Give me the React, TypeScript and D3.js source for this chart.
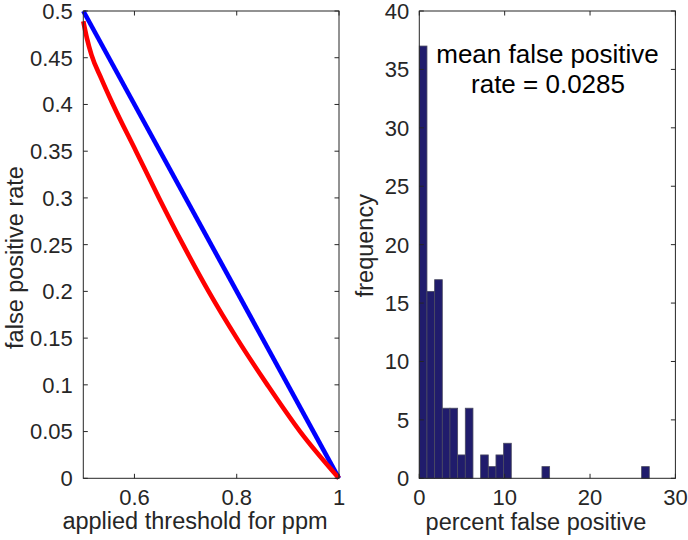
import React from "react";
import * as d3 from "d3";

const W = 688;
const H = 540;

// Left panel data
const blueX = [0.5, 1.0];
const blueY = [0.5, 0.0];
const redX = [0.5, 0.507, 0.516, 0.535, 0.558, 0.603, 0.648, 0.695, 0.745, 0.8, 0.86, 0.924, 1.0];
const redY = [0.489, 0.471, 0.453, 0.428, 0.4, 0.35, 0.3, 0.25, 0.2, 0.15, 0.1, 0.05, 0.0];
const leftYTicks = [0, 0.05, 0.1, 0.15, 0.2, 0.25, 0.3, 0.35, 0.4, 0.45, 0.5];
const leftXTicks = [0.6, 0.8, 1];

// Right panel data (histogram, 30 bins from 0 to 26.94)
const binStart = 0;
const binWidth = 0.898;
const binCounts = [37, 16, 17, 6, 6, 2, 6, 0, 2, 1, 2, 3, 0, 0, 0, 0, 1, 0, 0, 0, 0, 0, 0, 0, 0, 0, 0, 0, 0, 1];
const rightYTicks = [0, 5, 10, 15, 20, 25, 30, 35, 40];
const rightXTicks = [0, 10, 20, 30];

const FONT = "'Liberation Sans', Arial, Helvetica, sans-serif";
const AX = "#262626";
const TICK_FS = 22;
const LABEL_FS = 23.5;

export default function App() {
  const top = 11;
  const bottom = 478.3;

  const lx = d3.scaleLinear().domain([0.5, 1]).range([83.3, 339]);
  const ly = d3.scaleLinear().domain([0, 0.5]).range([bottom, top]);
  const rx = d3.scaleLinear().domain([0, 30]).range([419.3, 675.4]);
  const ry = d3.scaleLinear().domain([0, 40]).range([bottom, top]);

  const lineL = d3
    .line<number>()
    .x((_, i) => lx(redX[i]))
    .y((d) => ly(d))
    .curve(d3.curveMonotoneX);
  const lineB = d3
    .line<number>()
    .x((_, i) => lx(blueX[i]))
    .y((d) => ly(d));

  const tl = 4.5;

  const box = (x0: number, x1: number) => (
    <rect x={x0} y={top} width={x1 - x0} height={bottom - top} fill="none" stroke={AX} strokeWidth={1} />
  );

  return (
    <svg
      width={W}
      height={H}
      style={{ position: "absolute", left: 0, top: 0, background: "#fff" }}
      fontFamily={FONT}
    >
      <rect x={0} y={0} width={W} height={H} fill="#fff" />
      {/* LEFT PANEL */}
      <g>
        <path d={lineB(blueY) || ""} fill="none" stroke="#0000ff" strokeWidth={4.6} />
        <path d={lineL(redY) || ""} fill="none" stroke="#ff0000" strokeWidth={4.6} />
        {box(lx.range()[0], lx.range()[1])}
        {leftYTicks.map((t) => (
          <g key={"ly" + t}>
            <line x1={lx.range()[0]} x2={lx.range()[0] + tl} y1={ly(t)} y2={ly(t)} stroke={AX} />
            <line x1={lx.range()[1]} x2={lx.range()[1] - tl} y1={ly(t)} y2={ly(t)} stroke={AX} />
            <text x={lx.range()[0] - 10.5} y={ly(t)} dy="0.36em" textAnchor="end" fontSize={TICK_FS} fill={AX}>
              {String(t)}
            </text>
          </g>
        ))}
        {leftXTicks.map((t) => (
          <g key={"lx" + t}>
            <line x1={lx(t)} x2={lx(t)} y1={bottom} y2={bottom - tl} stroke={AX} />
            <line x1={lx(t)} x2={lx(t)} y1={top} y2={top + tl} stroke={AX} />
            <text x={lx(t)} y={505} textAnchor="middle" fontSize={TICK_FS} fill={AX}>
              {String(t)}
            </text>
          </g>
        ))}
        <text x={195} y={529} textAnchor="middle" fontSize={LABEL_FS} fill={AX}>
          applied threshold for ppm
        </text>
        <text
          transform={`translate(22.5,257.5) rotate(-90)`}
          textAnchor="middle"
          fontSize={LABEL_FS}
          fill={AX}
        >
          false positive rate
        </text>
      </g>

      {/* RIGHT PANEL */}
      <g>
        {binCounts.map((c, i) =>
          c > 0 ? (
            <rect
              key={"b" + i}
              x={rx(binStart + i * binWidth)}
              y={ry(c)}
              width={rx(binStart + (i + 1) * binWidth) - rx(binStart + i * binWidth)}
              height={ry(0) - ry(c)}
              fill="#201c6c"
              stroke="#4a4a60"
              strokeWidth={0.8}
            />
          ) : null
        )}
        {box(rx.range()[0], rx.range()[1])}
        {rightYTicks.map((t) => (
          <g key={"ry" + t}>
            <line x1={rx.range()[0]} x2={rx.range()[0] + tl} y1={ry(t)} y2={ry(t)} stroke={AX} />
            <line x1={rx.range()[1]} x2={rx.range()[1] - tl} y1={ry(t)} y2={ry(t)} stroke={AX} />
            <text x={rx.range()[0] - 10} y={ry(t)} dy="0.36em" textAnchor="end" fontSize={TICK_FS} fill={AX}>
              {String(t)}
            </text>
          </g>
        ))}
        {rightXTicks.map((t) => (
          <g key={"rx" + t}>
            <line x1={rx(t)} x2={rx(t)} y1={bottom} y2={bottom - tl} stroke={AX} />
            <line x1={rx(t)} x2={rx(t)} y1={top} y2={top + tl} stroke={AX} />
            <text x={rx(t)} y={505} textAnchor="middle" fontSize={TICK_FS} fill={AX}>
              {String(t)}
            </text>
          </g>
        ))}
        <text x={536} y={530} textAnchor="middle" fontSize={LABEL_FS} fill={AX}>
          percent false positive
        </text>
        <text
          transform={`translate(372.5,245.7) rotate(-90)`}
          textAnchor="middle"
          fontSize={LABEL_FS}
          fill={AX}
        >
          frequency
        </text>
        <text x={547.5} y={63} textAnchor="middle" fontSize={26} fill="#000">
          mean false positive
        </text>
        <text x={548} y={92.5} textAnchor="middle" fontSize={26} fill="#000">
          rate = 0.0285
        </text>
      </g>
    </svg>
  );
}
